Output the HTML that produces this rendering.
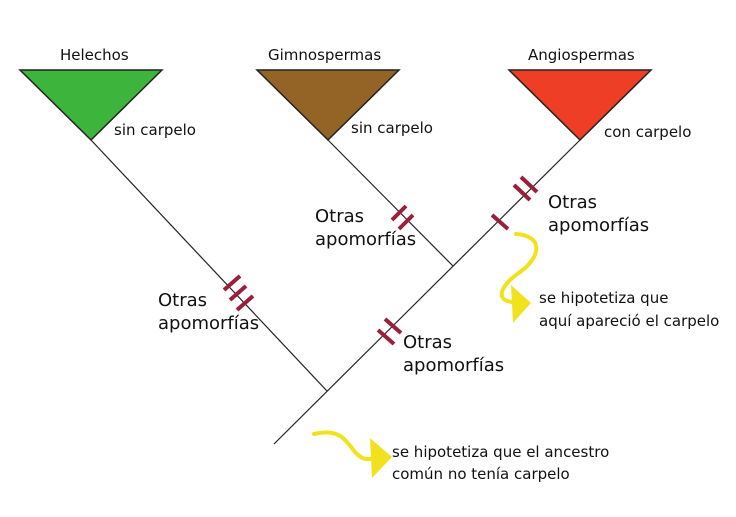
<!DOCTYPE html>
<html><head><style>body{margin:0;background:#fff}</style></head><body>
<svg width="736" height="512" xmlns="http://www.w3.org/2000/svg" font-family="DejaVu Sans, sans-serif">
<rect width="736" height="512" fill="#fff"/>
<polygon points="20,70 162,70 91,140" fill="#3db43c" stroke="#222" stroke-width="1.5"/>
<polygon points="257,70 399,70 328,140" fill="#946326" stroke="#222" stroke-width="1.5"/>
<polygon points="509,70 651,70 580,140" fill="#ee3e26" stroke="#222" stroke-width="1.5"/>
<g stroke="#222" stroke-width="1.2">
<line x1="274" y1="444" x2="580" y2="140"/>
<line x1="91" y1="140" x2="327" y2="391"/>
<line x1="328" y1="140" x2="453" y2="266"/>
</g>
<g stroke="#9a1f3b" stroke-width="4">
<line x1="224" y1="290" x2="240" y2="276"/>
<line x1="230" y1="300" x2="246" y2="286"/>
<line x1="237" y1="310" x2="253" y2="296"/>
<line x1="392" y1="220" x2="406" y2="206"/>
<line x1="399" y1="229" x2="413" y2="215"/>
<line x1="385" y1="319" x2="401" y2="333"/>
<line x1="378" y1="330" x2="394" y2="344"/>
<line x1="514" y1="185" x2="530" y2="200"/>
<line x1="521" y1="177" x2="537" y2="192"/>
<line x1="492" y1="215" x2="508" y2="229"/>
</g>
<g fill="none" stroke="#f2e21e" stroke-width="4" stroke-linecap="round">
<path d="M516,234 C545,236 540,258 520,272 C500,286 495,300 512,302"/>
<path d="M314,434 C340,428 345,440 355,452 C362,460 368,460 374,458"/>
</g>
<g fill="#f2e21e">
<polygon points="511,285 531,303 513,323"/>
<polygon points="370,438 392,457 372,478"/>
</g>
<g fill="#111" font-size="15">
<text x="60" y="60">Helechos</text>
<text x="268" y="60">Gimnospermas</text>
<text x="528" y="60">Angiospermas</text>
<text x="114" y="135">sin carpelo</text>
<text x="351" y="133">sin carpelo</text>
<text x="604" y="137">con carpelo</text>
<text x="539" y="303">se hipotetiza que</text>
<text x="539" y="326">aquí apareció el carpelo</text>
<text x="392" y="457">se hipotetiza que el ancestro</text>
<text x="392" y="479">común no tenía carpelo</text>
</g>
<g fill="#111" font-size="18">
<text x="158" y="306">Otras</text><text x="158" y="329">apomorfías</text>
<text x="315" y="222">Otras</text><text x="315" y="245">apomorfías</text>
<text x="403" y="348">Otras</text><text x="403" y="371">apomorfías</text>
<text x="548" y="208">Otras</text><text x="548" y="231">apomorfías</text>
</g>
</svg>
</body></html>
